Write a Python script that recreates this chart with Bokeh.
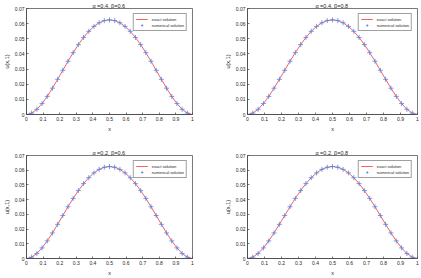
from bokeh.plotting import figure
from bokeh.layouts import gridplot
from bokeh.models import FixedTicker, NumeralTickFormatter, Range1d
from bokeh.embed import file_html
from bokeh.resources import INLINE

titles = ["α =0.4,  β=0.6", "α =0.4,  β=0.8", "α =0.2,  β=0.6", "α =0.2,  β=0.8"]
x_ticks = [0, 0.1, 0.2, 0.3, 0.4, 0.5, 0.6, 0.7, 0.8, 0.9, 1.0]
y_ticks = [0, 0.01, 0.02, 0.03, 0.04, 0.05, 0.06, 0.07]

x_num = [0.03125, 0.0625, 0.09375, 0.125, 0.15625, 0.1875, 0.21875, 0.25,
         0.28125, 0.3125, 0.34375, 0.375, 0.40625, 0.4375, 0.46875, 0.5,
         0.53125, 0.5625, 0.59375, 0.625, 0.65625, 0.6875, 0.71875, 0.75,
         0.78125, 0.8125, 0.84375, 0.875, 0.90625, 0.9375, 0.96875]
u_num = [0.00092, 0.00343, 0.00722, 0.01196, 0.01738, 0.02321, 0.02921, 0.03516,
         0.04086, 0.04616, 0.05089, 0.05493, 0.05818, 0.06056, 0.06201, 0.06250,
         0.06201, 0.06056, 0.05818, 0.05493, 0.05089, 0.04616, 0.04086, 0.03516,
         0.02921, 0.02321, 0.01738, 0.01196, 0.00722, 0.00343, 0.00092]

x_exact = [0.0] + x_num + [1.0]
u_exact = [0.0] + u_num + [0.0]

AX = "#404040"
TXT = "#262626"
FONT = "Liberation Sans"


def make(title, w, h, bl, br, bt, bb):
    p = figure(width=w, height=h, output_backend="svg", toolbar_location=None,
               x_range=Range1d(0, 1), y_range=Range1d(0, 0.07),
               min_border_left=bl, min_border_right=br, min_border_top=bt,
               min_border_bottom=bb, title=title)
    p.title.align = "center"
    p.title.text_font = FONT
    p.title.text_font_size = "5.5px"
    p.title.text_font_style = "normal"
    p.title.text_color = TXT
    p.title.standoff = 0
    p.xgrid.visible = False
    p.ygrid.visible = False
    p.outline_line_color = AX
    p.outline_line_width = 0.7

    for ax, ticks in ((p.xaxis[0], x_ticks), (p.yaxis[0], y_ticks)):
        ax.ticker = FixedTicker(ticks=ticks)
        ax.formatter = NumeralTickFormatter(format="0.[00]")
        ax.major_tick_in = 2
        ax.major_tick_out = 0
        ax.minor_tick_line_color = None
        ax.axis_line_color = AX
        ax.axis_line_width = 0.7
        ax.major_tick_line_color = AX
        ax.major_tick_line_width = 0.7
        ax.major_label_text_font = FONT
        ax.major_label_text_font_size = "5px"
        ax.major_label_text_color = TXT
        ax.major_label_standoff = 2
        ax.axis_label_text_font = FONT
        ax.axis_label_text_font_size = "5.5px"
        ax.axis_label_text_font_style = "normal"
        ax.axis_label_text_color = TXT
        ax.axis_label_standoff = 2
    p.xaxis.axis_label = "x"
    p.yaxis.axis_label = "u(x,1)"

    p.line(x_exact, u_exact, line_color="#ff5c5c", line_width=1, legend_label="exact solution")
    p.scatter(x_num, u_num, marker="cross", size=5, line_color="#4a86e8", line_width=0.8,
              legend_label="numerical solution")

    lg = p.legend[0]
    lg.location = "top_right"
    lg.label_text_font = FONT
    lg.label_text_font_size = "4px"
    lg.label_text_color = TXT
    lg.label_height = 6
    lg.label_standoff = 4
    lg.glyph_height = 6
    lg.glyph_width = 12
    lg.spacing = 0
    lg.padding = 2
    lg.margin = 5
    lg.border_line_color = AX
    lg.border_line_width = 0.7
    return p


p1 = make(titles[0], 221, 145, 21, 29, 7, 31)
p2 = make(titles[1], 200, 145, 25, 4, 7, 31)
p3 = make(titles[2], 221, 133, 21, 28, 10, 17)
p4 = make(titles[3], 200, 133, 25, 4, 10, 17)

grid = gridplot([[p1, p2], [p3, p4]], toolbar_location=None)

open("out.html", "w").write(file_html(grid, INLINE))
